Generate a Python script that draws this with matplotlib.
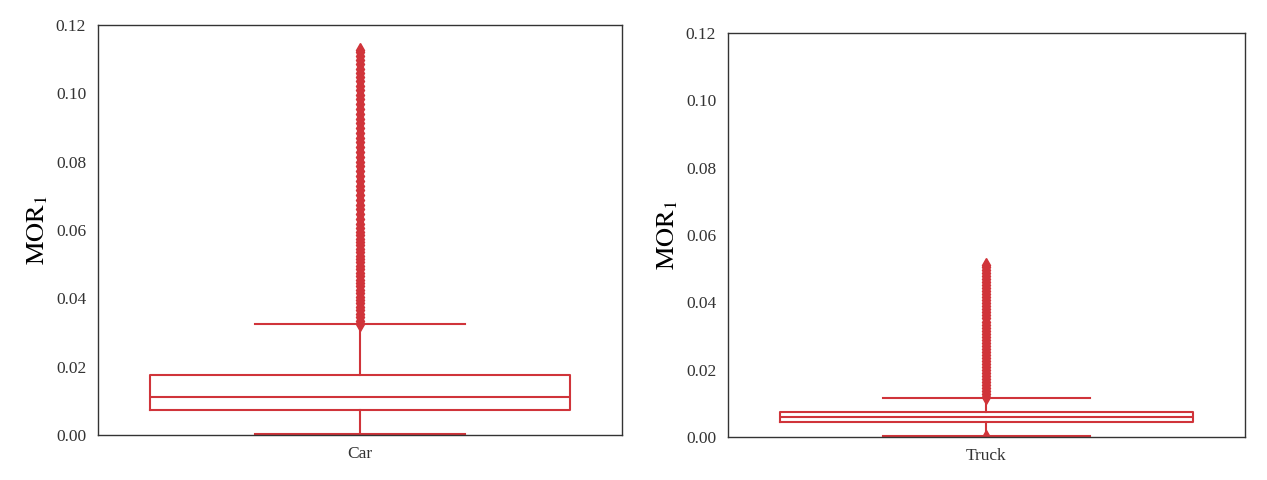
"""Box plots of MOR_1 for cars and trucks."""

import matplotlib

matplotlib.use("Agg")
import matplotlib.pyplot as plt

plt.rcParams["font.family"] = ["Liberation Serif", "DejaVu Serif"]
plt.rcParams["mathtext.fontset"] = "stix"

RED = "#d0343a"

CATEGORIES = ["Car", "Truck"]

# box statistics: q1, median, q3, lower / upper whisker
CAR_STATS = dict(q1=0.0074, med=0.0112, q3=0.0176, whislo=0.0003, whishi=0.0326)
TRUCK_STATS = dict(q1=0.0045, med=0.0059, q3=0.0074, whislo=0.0004, whishi=0.0116)

CAR_FLIERS = [
    0.0326, 0.0335, 0.0345, 0.0355, 0.0365, 0.0375, 0.0385, 0.0395, 0.0405,
    0.0415, 0.0425, 0.0435, 0.0445, 0.0455, 0.0465, 0.0475, 0.0485, 0.0495,
    0.0505, 0.0515, 0.0525, 0.0535, 0.0545, 0.0555, 0.0565, 0.0575, 0.0585,
    0.0595, 0.0605, 0.0618, 0.0632, 0.0646, 0.0660, 0.0674, 0.0688, 0.0702,
    0.0716, 0.0730, 0.0744, 0.0758, 0.0772, 0.0786, 0.0800, 0.0814, 0.0828,
    0.0842, 0.0856, 0.0870, 0.0884, 0.0898, 0.0912, 0.0926, 0.0940, 0.0954,
    0.0968, 0.0982, 0.0996, 0.1010, 0.1022, 0.1035, 0.1048, 0.1060, 0.1072,
    0.1085, 0.1098, 0.1110, 0.1122, 0.1128,
]
TRUCK_FLIERS = [
    0.0, 0.0118, 0.0127, 0.0136, 0.0145, 0.0154, 0.0163, 0.0172, 0.0181,
    0.0190, 0.0199, 0.0208, 0.0217, 0.0226, 0.0235, 0.0244, 0.0253, 0.0262,
    0.0271, 0.0280, 0.0289, 0.0298, 0.0307, 0.0316, 0.0325, 0.0334, 0.0343,
    0.0352, 0.0361, 0.0370, 0.0379, 0.0388, 0.0397, 0.0406, 0.0415, 0.0424,
    0.0433, 0.0442, 0.0451, 0.0460, 0.0469, 0.0478, 0.0487, 0.0496, 0.0505,
    0.0512,
]

Y_TICKS = [0.00, 0.02, 0.04, 0.06, 0.08, 0.10, 0.12]


def _draw(ax, label, stats, fliers):
    ax.bxp(
        [dict(stats, fliers=fliers, label=label)],
        positions=[1],
        widths=0.8,
        capwidths=0.4,
        boxprops=dict(color=RED, linewidth=1.5),
        whiskerprops=dict(color=RED, linewidth=1.5),
        capprops=dict(color=RED, linewidth=1.5),
        medianprops=dict(color=RED, linewidth=1.5),
        flierprops=dict(marker="d", markerfacecolor=RED, markeredgecolor=RED,
                        markersize=7),
    )
    ax.set_xlim(0.5, 1.5)
    ax.set_ylim(0.0, 0.12)
    ax.set_yticks(Y_TICKS)
    ax.set_yticklabels([f"{t:.2f}" for t in Y_TICKS])
    ax.tick_params(axis="y", length=0, labelsize=12.5, pad=8.5, colors="#333333")
    ax.tick_params(axis="x", length=0, labelsize=12.5, pad=8, colors="#333333")
    ax.set_ylabel(r"$\mathrm{MOR}_1$", fontsize=19, labelpad=4)
    for spine in ax.spines.values():
        spine.set_color("#333333")
        spine.set_linewidth(1.0)


def main() -> None:
    fig = plt.figure(figsize=(12.67, 4.8), dpi=100)
    ax_car = fig.add_axes([0.0773, 0.0938, 0.4136, 0.8542])
    ax_truck = fig.add_axes([0.5746, 0.0896, 0.4080, 0.8417])

    _draw(ax_car, CATEGORIES[0], CAR_STATS, CAR_FLIERS)
    _draw(ax_truck, CATEGORIES[1], TRUCK_STATS, TRUCK_FLIERS)

    fig.savefig("out.png", dpi=100)


if __name__ == "__main__":
    main()
